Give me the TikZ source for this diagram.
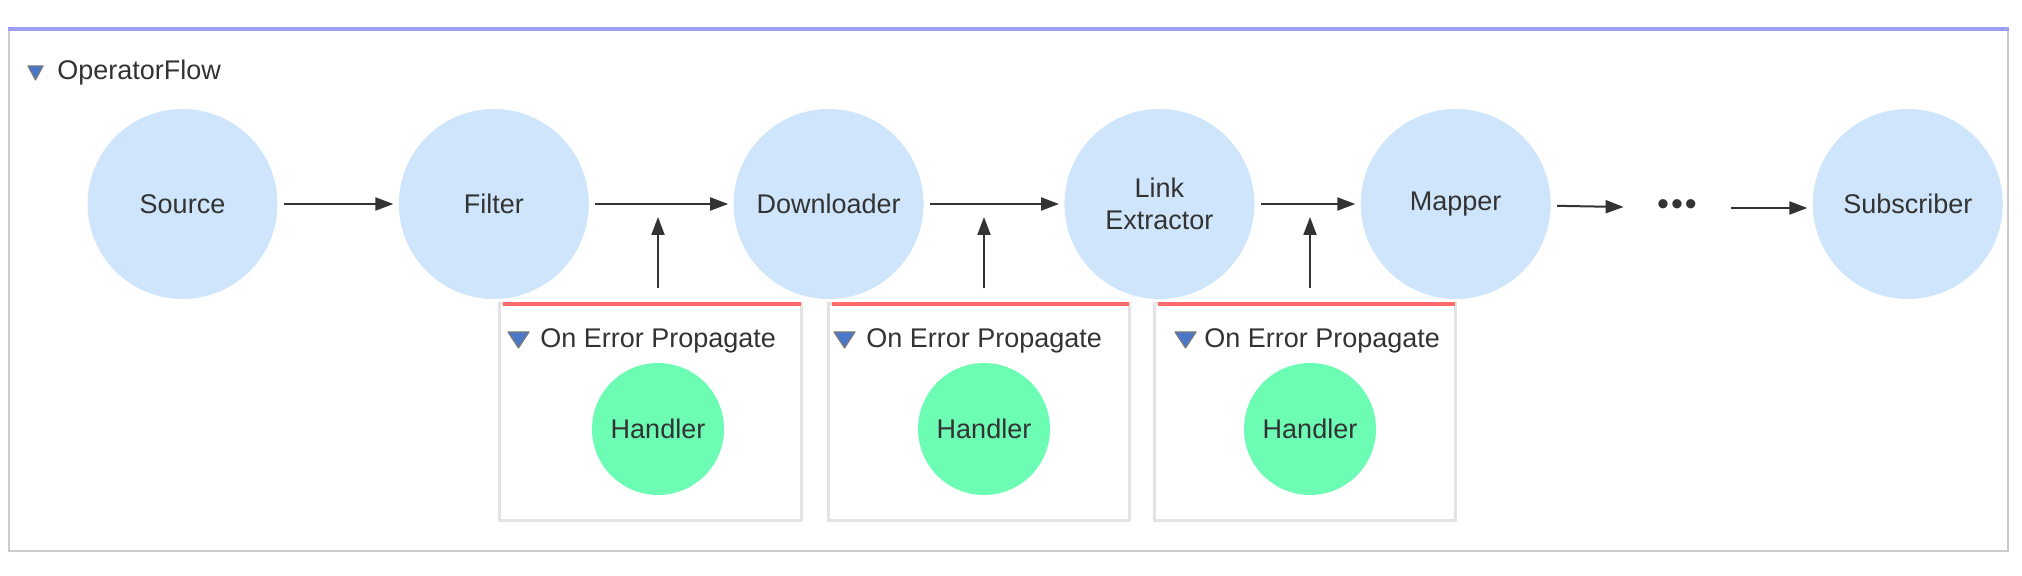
\documentclass[tikz,border=0pt]{standalone}
\usepackage{fontspec}
\setmainfont{Liberation Sans}
\usepackage{xcolor}
\usetikzlibrary{positioning, arrows.meta, calc}

\begin{document}
\begin{tikzpicture}[
    x=0.5pt, y=-0.5pt,
    >={Triangle[length=9pt, width=6.5pt]},
    node distance=60pt,
    lbl/.style={font=\fontsize{13.5}{16}\selectfont, text=ink},
    op/.style={circle, fill=opfill, minimum size=95pt, inner sep=0pt,
        align=center, lbl},
    handler/.style={circle, fill=handlerfill, minimum size=66pt, inner sep=0pt, lbl},
    errbox/.style={rectangle, draw=errborder, line width=1.5pt,
        minimum height=108pt, inner sep=0pt},
    errbar/.style={draw=errtop, line width=2pt},
    grouptitle/.style={lbl, anchor=base west, inner sep=0pt},
    droptri/.style={fill=tribody, draw=triedge, line width=0.6pt, line join=round},
    flow/.style={->, draw=ink, line width=1pt, shorten <=3pt, shorten >=2.5pt},
]

% ── Colors ──
\definecolor{ink}{HTML}{333333}
\definecolor{opfill}{HTML}{CFE5FB}
\definecolor{handlerfill}{HTML}{6CFCB4}
\definecolor{frameborder}{HTML}{CCCCCC}
\definecolor{frametop}{HTML}{9D9EF6}
\definecolor{errborder}{HTML}{E3E3E3}
\definecolor{errtop}{HTML}{FF6B6B}
\definecolor{tribody}{HTML}{4A78C8}
\definecolor{triedge}{HTML}{7A7A7A}

\useasboundingbox (0,0) rectangle (2022,576);

% ══════════════════════════════════════════════
% OperatorFlow frame
% ══════════════════════════════════════════════
\node[rectangle, draw=frameborder, line width=1pt, inner sep=0pt,
    minimum width=999.5pt, minimum height=260.5pt] (flowframe) at (1008.5,290.5) {};
\draw[frametop, line width=1.75pt] (flowframe.north west) -- (flowframe.north east);

\node[grouptitle] (flowtitle) at (57,80) {OperatorFlow};
\filldraw[droptri] (flowtitle.base west) ++(-29,-14) -- ++(15,0) -- ++(-7.5,14) -- cycle;

% ══════════════════════════════════════════════
% Operator chain
% ══════════════════════════════════════════════
\node[op] (source) at (182.5,204) {Source};
\node[op, right=60.25pt of source] (filter) {Filter};
\node[op, right=72pt of filter] (downloader) {Downloader};
\node[op, right=70pt of downloader] (linkext) {Link\\Extractor};
\node[op, right=52.75pt of linkext] (mapper) {Mapper};
\node[lbl, font=\fontsize{17}{17}\selectfont, minimum width=48pt, inner sep=0pt,
    right=38.75pt of mapper, yshift=-2pt] (more) {•\kern1pt•\kern1pt•};
\node[op, right=43.5pt of more, yshift=2pt] (subscriber) {Subscriber};

\draw[flow] (source) -- (filter);
\draw[flow] (filter) -- (downloader);
\draw[flow] (downloader) -- (linkext);
\draw[flow] (linkext) -- (mapper);
\draw[flow] (mapper) -- (more);
\draw[flow] (more) -- (more -| subscriber.west);

% ══════════════════════════════════════════════
% Error group 1
% ══════════════════════════════════════════════
\node[errbox, minimum width=151pt] (errbox1) at (650,412) {};
\draw[errbar] ([xshift=2.5pt, yshift=-1pt]errbox1.north west)
    -- ([xshift=-1pt, yshift=-1pt]errbox1.north east);
\node[grouptitle] (errtitle1) at (540,348) {On Error Propagate};
\filldraw[droptri] (errtitle1.base west) ++(-32,-16) -- ++(21,0) -- ++(-10.5,16) -- cycle;
\node[handler] (handler1) at (658,429) {Handler};
\coordinate (tap1) at (658,217);
\draw[flow, shorten <=7pt, shorten >=0pt] (handler1 |- errbox1.north) -- (tap1);

% ══════════════════════════════════════════════
% Error group 2
% ══════════════════════════════════════════════
\node[errbox, minimum width=150.5pt] (errbox2) at (978.5,412) {};
\draw[errbar] ([xshift=2.5pt, yshift=-1pt]errbox2.north west)
    -- ([xshift=-1pt, yshift=-1pt]errbox2.north east);
\node[grouptitle] (errtitle2) at (866,348) {On Error Propagate};
\filldraw[droptri] (errtitle2.base west) ++(-32,-16) -- ++(21,0) -- ++(-10.5,16) -- cycle;
\node[handler] (handler2) at (984,429) {Handler};
\coordinate (tap2) at (984,217);
\draw[flow, shorten <=7pt, shorten >=0pt] (handler2 |- errbox2.north) -- (tap2);

% ══════════════════════════════════════════════
% Error group 3
% ══════════════════════════════════════════════
\node[errbox, minimum width=150.5pt] (errbox3) at (1304.5,412) {};
\draw[errbar] ([xshift=2.5pt, yshift=-1pt]errbox3.north west)
    -- ([xshift=-1pt, yshift=-1pt]errbox3.north east);
\node[grouptitle] (errtitle3) at (1204,348) {On Error Propagate};
\filldraw[droptri] (errtitle3.base west) ++(-29,-16) -- ++(21,0) -- ++(-10.5,16) -- cycle;
\node[handler] (handler3) at (1310,429) {Handler};
\coordinate (tap3) at (1310,217);
\draw[flow, shorten <=7pt, shorten >=0pt] (handler3 |- errbox3.north) -- (tap3);

\end{tikzpicture}
\end{document}
